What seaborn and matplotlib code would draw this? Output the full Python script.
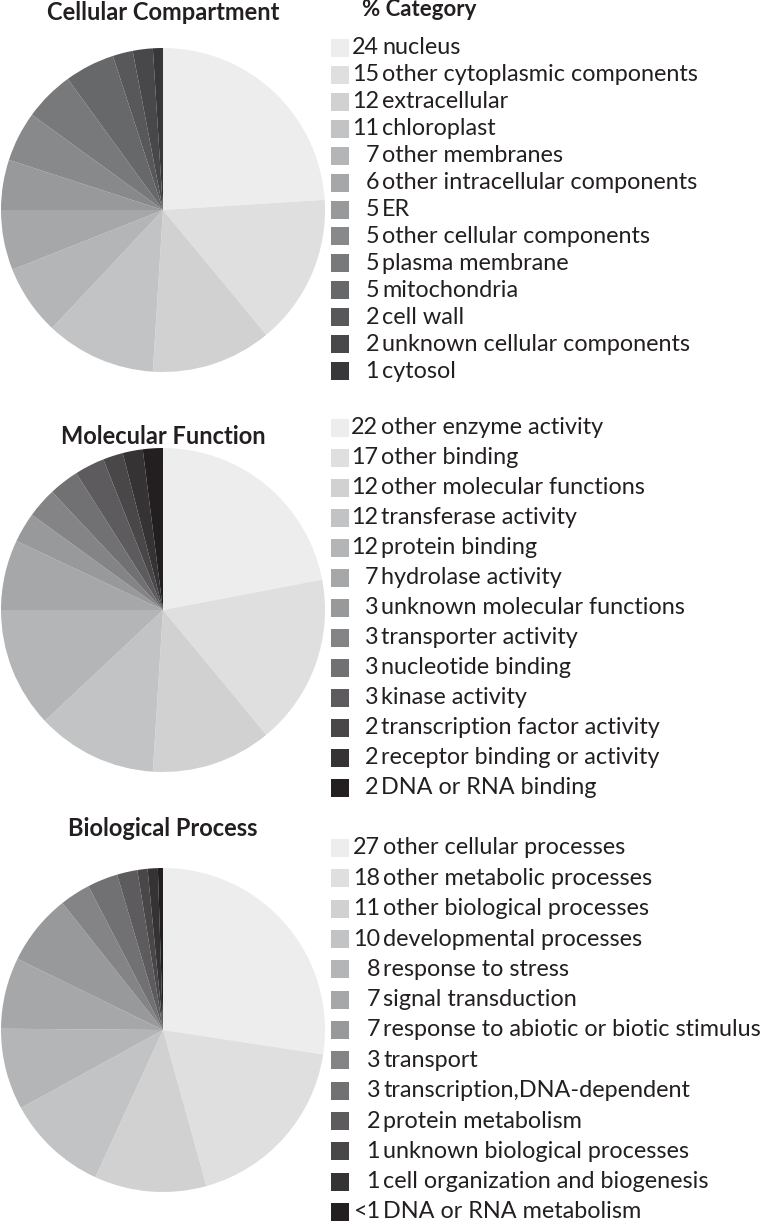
import matplotlib
matplotlib.use("Agg")
import matplotlib.pyplot as plt
import seaborn as sns
from matplotlib.patches import Rectangle

# data
cc_values = [24, 15, 12, 11, 7, 6, 5, 5, 5, 5, 2, 2, 1]
cc_labels = ["nucleus", "other cytoplasmic components", "extracellular", "chloroplast",
             "other membranes", "other intracellular components", "ER",
             "other cellular components", "plasma membrane", "mitochondria",
             "cell wall", "unknown cellular components", "cytosol"]
cc_text = ["24", "15", "12", "11", "7", "6", "5", "5", "5", "5", "2", "2", "1"]

mf_values = [22, 17, 12, 12, 12, 7, 3, 3, 3, 3, 2, 2, 2]
mf_labels = ["other enzyme activity", "other binding", "other molecular functions",
             "transferase activity", "protein binding", "hydrolase activity",
             "unknown molecular functions", "transporter activity", "nucleotide binding",
             "kinase activity", "transcription factor activity",
             "receptor binding or activity", "DNA or RNA binding"]
mf_text = ["22", "17", "12", "12", "12", "7", "3", "3", "3", "3", "2", "2", "2"]

bp_values = [27, 18, 11, 10, 8, 7, 7, 3, 3, 2, 1, 1, 0.5]
bp_labels = ["other cellular processes", "other metabolic processes",
             "other biological processes", "developmental processes",
             "response to stress", "signal transduction",
             "response to abiotic or biotic stimulus", "transport",
             "transcription,DNA-dependent", "protein metabolism",
             "unknown biological processes", "cell organization and biogenesis",
             "DNA or RNA metabolism"]
bp_text = ["27", "18", "11", "10", "8", "7", "7", "3", "3", "2", "1", "1", "<1"]

titles = ["Cellular Compartment", "Molecular Function", "Biological Process"]

sns.set_theme(style="white")
plt.rcParams["font.family"] = ["Lato", "DejaVu Sans"]

W, H = 767, 1222
fig = plt.figure(figsize=(W / 100, H / 100), dpi=100)
fig.patch.set_facecolor("white")

# overlay axis in pixel coordinates for titles and legends
ov = fig.add_axes([0, 0, 1, 1])
ov.set_xlim(0, W)
ov.set_ylim(H, 0)
ov.axis("off")

txt_color = "#231f20"

panels = [
    (cc_values, cc_labels, cc_text, "#38383a", 210, 12, 48, 371, 379),
    (mf_values, mf_labels, mf_text, "#231f20", 610, 437, 428, 788, 378),
    (bp_values, bp_labels, bp_text, "#231f20", 1030, 829, 848, 1212, 380),
]

R = 162
for (vals, labs, nums, dark, cy, ty, ly0, ly1, numx), title in zip(panels, titles):
    colors = sns.blend_palette(["#ededed", "#98999b", dark], len(vals))
    ax = fig.add_axes([(163 - R) / W, 1 - (cy + R) / H, 2 * R / W, 2 * R / H],
                      zorder=0)
    ax.pie(vals, colors=colors, startangle=90, counterclock=False,
           wedgeprops=dict(linewidth=0))
    ax.set_xlim(-1, 1)
    ax.set_ylim(-1, 1)
    ax.set_aspect("equal")
    ax.axis("off")

    ov.text(163, ty, title, ha="center", va="center", fontsize=17,
            fontweight="bold", color=txt_color)

    step = (ly1 - ly0) / (len(vals) - 1)
    for i, (c, lab, num) in enumerate(zip(colors, labs, nums)):
        y = ly0 + i * step
        ov.add_patch(Rectangle((331, y - 9), 18, 18, color=c, lw=0))
        ov.text(numx, y, num, ha="right", va="center", fontsize=16.8,
                color=txt_color)
        ov.text(numx + 3, y, lab, ha="left", va="center", fontsize=16.8,
                color=txt_color)

ov.text(362, 10, "% Category", ha="left", va="center", fontsize=16,
        fontweight="bold", color=txt_color)
ov.set_zorder(1)

fig.savefig("out.png", dpi=100, facecolor="white")
